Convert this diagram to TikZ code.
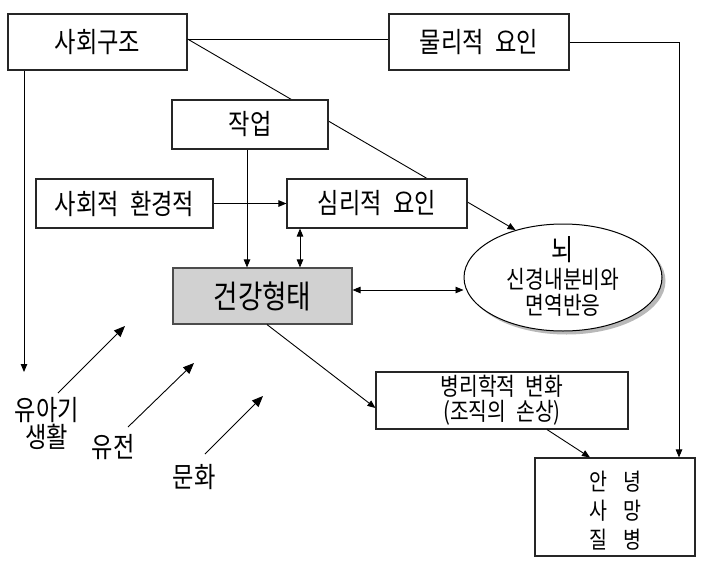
\documentclass[tikz,border=0pt]{standalone}
\usepackage{fontspec}
\setmainfont{Noto Sans CJK KR}[FakeStretch=0.83,WordSpace=2.2]
\usetikzlibrary{arrows.meta,shapes.geometric,calc}
\newcommand{\kfs}[1]{\fontsize{#1pt}{#1pt}\selectfont}
\newcommand{\kfsb}[2]{\fontsize{#1pt}{#2pt}\selectfont}
\tikzset{
  box/.style={draw=black!85, line width=1.1pt, fill=white, inner sep=0pt, font=\kfs{28}},
  healthbox/.style={draw=black!70, line width=1.1pt, fill=gray!36, inner sep=0pt, font=\kfs{32}},
  lbl/.style={inner sep=0pt, font=\kfs{28}},
  conn/.style={line width=0.9pt},
  arr/.style={conn, -{Triangle[length=8pt,width=6.5pt]}},
  darr/.style={conn, {Triangle[length=8pt,width=6.5pt]}-{Triangle[length=8pt,width=6.5pt]}},
  bigarr/.style={conn, -{Triangle[length=11pt,width=9pt]}},
}
\begin{document}
\begin{tikzpicture}[x=1pt,y=-1pt]
\path[use as bounding box] (0,0) rectangle (702,568);

\node[box, minimum width=179pt, minimum height=56pt] (sahoe) at (97.5,42) {사회구조};
\node[box, minimum width=180pt, minimum height=56pt] (mulli) at (479,42) {물리적 요인};

% brain ellipse with shadow
\node[ellipse, fill=gray!55, inner sep=0pt, minimum width=198pt, minimum height=107pt] (brainshadow) at (566.5,281) {};
\node[ellipse, draw=black, line width=1pt, fill=white, inner sep=0pt, minimum width=198pt, minimum height=107pt] (brain) at (563,277.5) {};

% long diagonal line from social structure to brain (behind boxes)
\draw[arr] ([yshift=3pt]sahoe.east) -- (brain.135);

\node[box, minimum width=156pt, minimum height=49pt] (jakup) at (250,124.5) {작업};
\node[box, minimum width=177pt, minimum height=49pt] (env) at (124.5,203.5) {사회적 환경적};
\node[box, minimum width=180pt, minimum height=49pt] (simri) at (377,203.5) {심리적 요인};
\node[healthbox, minimum width=179pt, minimum height=56pt] (health) at (262.5,296) {건강형태};

\node[lbl, font=\kfs{29}] (brainA) at (563,250) {뇌};
\node[lbl, font=\kfs{24.5}] (brainB) at (563,279) {신경내분비와};
\node[lbl, font=\kfs{24.5}] (brainC) at (563,305) {면역반응};

\node[box, minimum width=252pt, minimum height=57pt, align=center, font=\kfsb{24.5}{25}] (patho) at (502,400.5) {병리학적 변화\\(조직의 손상)};
\node[box, minimum width=160pt, minimum height=98pt] (outcome) at (615,507) {};
\node[lbl, align=center, font=\kfsb{23.5}{29}] (outcomeT) at (615.5,511) {안\hspace{15.5pt}녕\\사\hspace{15.5pt}망\\질\hspace{15.5pt}병};

\node[lbl, align=center, font=\kfsb{28}{27}] (infant) at (47,423.5) {유아기\\생활};
\node[lbl] (gene) at (113,447) {유전};
\node[lbl] (culture) at (194,477) {문화};

% connectors
\draw[conn] ([yshift=3pt]sahoe.east) -- ([yshift=3pt]sahoe.east -| mulli.west);
\draw[arr] (mulli.east) -| ([xshift=64pt]outcome.north);
\draw[arr] ([xshift=-3pt]jakup.south) -- ([xshift=-3pt]jakup.south |- health.north);
\draw[arr] (env.east) -- (simri.west);
\draw[darr] ([xshift=-77pt]simri.south) -- ([xshift=-77pt]simri.south |- health.north);
\draw[darr] ([yshift=6pt]health.east) -- ([yshift=6pt]health.east -| brain.west);
\draw[arr] ([xshift=4.5pt]health.south) -- ([yshift=-7.5pt]patho.west);
\draw[arr] ([xshift=45pt]patho.south) -- ([xshift=-25pt]outcome.north);

\coordinate (leftend) at (24,372);
\draw[arr] (sahoe.south -| leftend) -- (leftend);

\coordinate (a1s) at (58,393);  \coordinate (a1e) at (125,326);
\coordinate (a2s) at (128,427); \coordinate (a2e) at (194,363);
\coordinate (a3s) at (205,454); \coordinate (a3e) at (263,396);
\draw[bigarr] (a1s) -- (a1e);
\draw[bigarr] (a2s) -- (a2e);
\draw[bigarr] (a3s) -- (a3e);
\end{tikzpicture}
\end{document}
